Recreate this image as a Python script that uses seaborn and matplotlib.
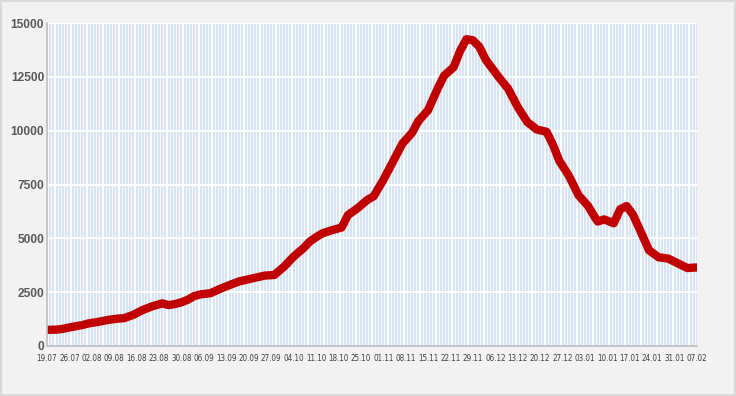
import numpy as np
import pandas as pd
import matplotlib
matplotlib.use("Agg")
import matplotlib.pyplot as plt
import matplotlib.dates as mdates
from matplotlib.patches import Rectangle
import seaborn as sns

# Data (day offset from 19.07, value)
start = pd.Timestamp("2020-07-19")
day_offsets = [0, 3, 5, 8, 11, 13, 16, 19, 22, 24, 27, 30, 33, 36, 38, 40, 42, 44,
               46, 48, 51, 54, 57, 60, 63, 65, 68, 71, 74, 77, 80, 82, 84, 86, 89,
               92, 94, 97, 100, 102, 105, 108, 111, 114, 116, 119, 122, 124, 127,
               129, 131, 133, 135, 137, 139, 141, 144, 147, 150, 153, 156, 158, 160,
               163, 166, 169, 171, 172, 174, 177, 179, 181, 183, 185, 188, 191, 194,
               197, 200, 202, 203]
values = [750, 760, 800, 890, 970, 1050, 1120, 1210, 1270, 1290, 1450, 1680, 1850,
          1980, 1900, 1950, 2030, 2150, 2320, 2400, 2450, 2650, 2830, 3000, 3100,
          3170, 3270, 3300, 3680, 4150, 4530, 4840, 5050, 5230, 5380, 5500, 6080,
          6400, 6780, 6950, 7700, 8550, 9400, 9900, 10450, 10950, 11950, 12550,
          12950, 13700, 14250, 14200, 13900, 13300, 12900, 12500, 11950, 11100,
          10400, 10050, 9950, 9350, 8600, 7900, 7000, 6500, 6000, 5780, 5880, 5700,
          6350, 6500, 6100, 5450, 4450, 4120, 4060, 3840, 3620, 3640, 3650]
tick_labels = ['19.07', '26.07', '02.08', '09.08', '16.08', '23.08', '30.08',
               '06.09', '13.09', '20.09', '27.09', '04.10', '11.10', '18.10',
               '25.10', '01.11', '08.11', '15.11', '22.11', '29.11', '06.12',
               '13.12', '20.12', '27.12', '03.01', '10.01', '17.01', '24.01',
               '31.01', '07.02']
y_ticks = [0, 2500, 5000, 7500, 10000, 12500, 15000]

df = pd.DataFrame({
    "date": start + pd.to_timedelta(day_offsets, unit="D"),
    "cases": values,
})
tick_pos = pd.date_range(start, periods=len(tick_labels), freq="7D")
end = tick_pos[-1]

sns.set_style("white")
plt.rcParams['font.family'] = ['Liberation Sans', 'DejaVu Sans']

fig = plt.figure(figsize=(7.36, 3.96), dpi=100)
fig.patch.set_facecolor("#f2f2f2")
fig.patches.append(Rectangle((0.001, 0.002), 0.997, 0.995, transform=fig.transFigure,
                             fill=False, edgecolor="#d9d9d9", linewidth=1.5))
ax = fig.add_axes([47/736, 50/396, 650/736, 323/396])
ax.set_facecolor("white")

# daily vertical grid in light blue
for d in pd.date_range(start, end, freq="D"):
    ax.axvline(d, color="#d8e4f1", linewidth=1.6, zorder=0)
for y in y_ticks[1:]:
    ax.axhline(y, color="white", linewidth=1.5, zorder=1)

sns.lineplot(data=df, x="date", y="cases", ax=ax, color="#c00000", linewidth=6.0,
             zorder=3, solid_capstyle="round", solid_joinstyle="round")

ax.set_xlim(start, end)
ax.set_ylim(0, 15000)
ax.set_xticks(tick_pos)
ax.set_xticklabels(tick_labels, family='DejaVu Sans', stretch='condensed',
                   fontsize=5.8, color="#404040")
ax.set_yticks(y_ticks)
ax.set_yticklabels([str(v) for v in y_ticks], fontsize=8.6, fontweight="bold",
                   color="#595959")
ax.tick_params(axis="x", length=0, pad=6)
ax.tick_params(axis="y", length=0, pad=2)
ax.set_xlabel("")
ax.set_ylabel("")
for s in ["top", "right"]:
    ax.spines[s].set_visible(False)
for s in ["left", "bottom"]:
    ax.spines[s].set_color("#bfbfbf")
    ax.spines[s].set_linewidth(1.2)
    ax.spines[s].set_zorder(4)

fig.savefig("out.png", dpi=100, facecolor=fig.get_facecolor())
